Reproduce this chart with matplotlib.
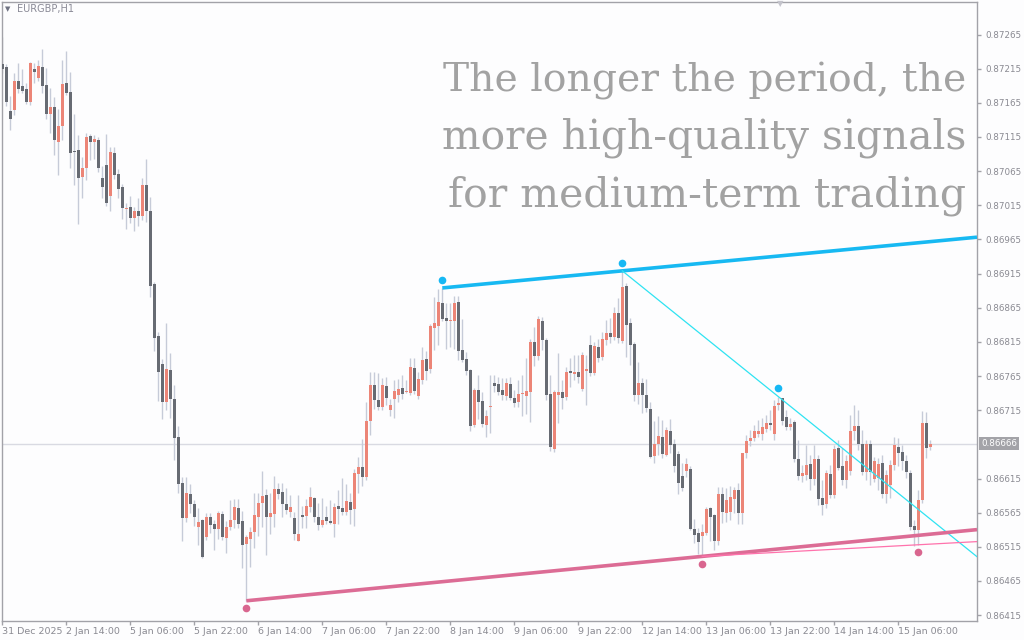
import matplotlib
matplotlib.use("Agg")
import matplotlib.pyplot as plt
import numpy as np

# EURGBP H1 candles, prices in points (1e-5)
opens = [87222, 87218, 87153, 87154, 87197, 87190, 87185, 87166, 87215, 87202,
         87217, 87191, 87148, 87159, 87107, 87131, 87194, 87181, 87094, 87096,
         87056, 87069, 87116, 87107, 87111, 87055, 87074, 87029, 87092, 87061,
         87042, 87010, 87012, 86997, 87007, 87000, 87045, 87007, 86900, 86824,
         86783, 86727, 86774, 86731, 86676, 86608, 86557, 86592, 86577, 86544,
         86554, 86530, 86559, 86548, 86541, 86563, 86528, 86544, 86554, 86572,
         86553, 86519, 86527, 86536, 86558, 86579, 86591, 86558, 86563, 86600,
         86595, 86578, 86566, 86557, 86524, 86562, 86560, 86574, 86586, 86559,
         86547, 86558, 86553, 86548, 86575, 86572, 86566, 86581, 86570, 86622,
         86632, 86617, 86699, 86752, 86730, 86719, 86750, 86715, 86731, 86737,
         86747, 86741, 86740, 86777, 86736, 86759, 86790, 86775, 86836, 86838,
         86872, 86850, 86846, 86845, 86873, 86803, 86790, 86774, 86693, 86745,
         86728, 86693, 86719, 86755, 86753, 86745, 86736, 86753, 86733, 86727,
         86738, 86736, 86741, 86815, 86794, 86846, 86818, 86739, 86658, 86737,
         86742, 86735, 86772, 86768, 86771, 86746, 86773, 86811, 86770, 86808,
         86793, 86818, 86828, 86822, 86857, 86817, 86897, 86843, 86812, 86737,
         86755, 86737, 86717, 86648, 86666, 86676, 86649, 86685, 86666, 86651,
         86619, 86626, 86629, 86541, 86535, 86531, 86535, 86572, 86562, 86524,
         86593, 86565, 86566, 86585, 86598, 86564, 86652, 86670, 86675, 86680,
         86680, 86687, 86696, 86680, 86722, 86733, 86705, 86691, 86697, 86644,
         86618, 86620, 86636, 86614, 86644, 86587, 86578, 86622, 86591, 86660,
         86633, 86613, 86626, 86685, 86692, 86665, 86625, 86666, 86615, 86616,
         86637, 86592, 86606, 86635, 86661, 86654, 86640, 86623, 86545, 86539,
         86583, 86696, 86661]
highs = [87261, 87222, 87175, 87208, 87224, 87215, 87194, 87225, 87224, 87227,
         87244, 87216, 87187, 87174, 87156, 87228, 87241, 87210, 87149, 87118,
         87086, 87121, 87120, 87118, 87115, 87072, 87119, 87100, 87100, 87068,
         87046, 87018, 87029, 87012, 87026, 87055, 87083, 87027, 86903, 86830,
         86790, 86843, 86799, 86752, 86692, 86617, 86617, 86607, 86584, 86572,
         86556, 86565, 86565, 86554, 86567, 86568, 86553, 86584, 86585, 86585,
         86567, 86533, 86544, 86594, 86594, 86626, 86600, 86594, 86619, 86608,
         86608, 86601, 86591, 86566, 86591, 86575, 86585, 86603, 86588, 86579,
         86586, 86575, 86583, 86579, 86598, 86616, 86607, 86594, 86629, 86647,
         86673, 86727, 86771, 86771, 86769, 86762, 86763, 86732, 86759, 86760,
         86767, 86759, 86791, 86791, 86771, 86807, 86802, 86841, 86880, 86892,
         86894, 86872, 86872, 86882, 86882, 86848, 86800, 86776, 86748, 86767,
         86742, 86716, 86767, 86767, 86764, 86762, 86762, 86763, 86745, 86759,
         86767, 86791, 86819, 86837, 86853, 86852, 86821, 86767, 86745, 86799,
         86759, 86778, 86791, 86796, 86796, 86800, 86796, 86825, 86815, 86819,
         86830, 86847, 86850, 86866, 86879, 86919, 86901, 86850, 86815, 86786,
         86762, 86761, 86727, 86699, 86707, 86701, 86691, 86702, 86673, 86655,
         86638, 86645, 86633, 86556, 86543, 86548, 86574, 86574, 86563, 86602,
         86603, 86601, 86604, 86603, 86609, 86653, 86679, 86686, 86693, 86701,
         86704, 86708, 86715, 86730, 86735, 86733, 86715, 86704, 86701, 86671,
         86635, 86664, 86649, 86664, 86649, 86613, 86627, 86635, 86664, 86671,
         86660, 86649, 86708, 86723, 86715, 86686, 86671, 86671, 86647, 86645,
         86649, 86627, 86642, 86676, 86674, 86664, 86649, 86627, 86554, 86598,
         86714, 86712, 86671]
lows = [87209, 87161, 87125, 87147, 87180, 87179, 87163, 87162, 87194, 87197,
        87180, 87142, 87121, 87088, 87060, 87111, 87176, 87069, 87044, 86988,
        87025, 87052, 87082, 87083, 87064, 87025, 87014, 87006, 87053, 87025,
        86995, 86980, 86989, 86977, 86985, 86993, 86990, 86880, 86801, 86729,
        86702, 86715, 86703, 86642, 86594, 86524, 86552, 86564, 86546, 86517,
        86499, 86525, 86535, 86510, 86526, 86525, 86506, 86540, 86542, 86542,
        86484, 86436, 86486, 86514, 86531, 86544, 86503, 86534, 86544, 86585,
        86559, 86563, 86559, 86525, 86524, 86543, 86543, 86566, 86552, 86539,
        86544, 86548, 86548, 86529, 86548, 86561, 86562, 86548, 86546, 86594,
        86604, 86613, 86678, 86717, 86715, 86715, 86723, 86706, 86703, 86727,
        86731, 86740, 86737, 86738, 86732, 86754, 86759, 86769, 86803, 86810,
        86845, 86804, 86808, 86805, 86789, 86786, 86767, 86685, 86691, 86702,
        86691, 86676, 86681, 86742, 86737, 86730, 86730, 86730, 86720, 86720,
        86707, 86710, 86698, 86779, 86789, 86803, 86730, 86655, 86654, 86696,
        86717, 86730, 86749, 86759, 86755, 86743, 86722, 86765, 86767, 86786,
        86789, 86810, 86813, 86818, 86813, 86813, 86793, 86781, 86728, 86724,
        86711, 86712, 86645, 86637, 86649, 86645, 86648, 86652, 86625, 86592,
        86597, 86617, 86540, 86521, 86504, 86501, 86532, 86523, 86510, 86518,
        86550, 86552, 86554, 86564, 86549, 86549, 86645, 86663, 86670, 86676,
        86671, 86683, 86686, 86671, 86715, 86693, 86686, 86686, 86639, 86613,
        86610, 86613, 86598, 86606, 86576, 86562, 86572, 86586, 86586, 86627,
        86606, 86601, 86620, 86671, 86657, 86620, 86613, 86606, 86610, 86598,
        86586, 86579, 86586, 86627, 86633, 86627, 86616, 86540, 86516, 86518,
        86579, 86645, 86657]
closes = [87215, 87166, 87141, 87197, 87185, 87182, 87166, 87224, 87210, 87219,
          87190, 87148, 87159, 87110, 87131, 87193, 87180, 87092, 87093, 87055,
          87070, 87115, 87108, 87112, 87069, 87042, 87019, 87093, 87060, 87039,
          87011, 87011, 86997, 87007, 87000, 87045, 87007, 86897, 86821, 86771,
          86727, 86775, 86732, 86675, 86607, 86557, 86594, 86578, 86559, 86551,
          86500, 86559, 86547, 86541, 86565, 86529, 86544, 86554, 86573, 86548,
          86518, 86529, 86537, 86562, 86579, 86589, 86558, 86565, 86600, 86593,
          86577, 86569, 86573, 86534, 86534, 86559, 86575, 86588, 86558, 86547,
          86554, 86553, 86550, 86573, 86570, 86566, 86582, 86569, 86623, 86632,
          86617, 86699, 86752, 86730, 86720, 86752, 86733, 86722, 86743, 86746,
          86738, 86742, 86778, 86743, 86761, 86789, 86773, 86838, 86842, 86873,
          86849, 86845, 86847, 86872, 86801, 86789, 86773, 86692, 86745, 86727,
          86695, 86707, 86720, 86751, 86742, 86737, 86755, 86733, 86726, 86739,
          86739, 86743, 86815, 86794, 86849, 86818, 86737, 86661, 86742, 86742,
          86733, 86771, 86769, 86771, 86763, 86796, 86774, 86770, 86809, 86792,
          86819, 86828, 86822, 86857, 86820, 86896, 86840, 86810, 86737, 86755,
          86737, 86718, 86647, 86666, 86677, 86651, 86686, 86664, 86633, 86608,
          86601, 86636, 86541, 86532, 86522, 86537, 86570, 86559, 86523, 86592,
          86566, 86584, 86588, 86598, 86564, 86652, 86670, 86675, 86684, 86684,
          86691, 86696, 86693, 86721, 86726, 86699, 86691, 86695, 86644, 86618,
          86623, 86635, 86614, 86644, 86585, 86576, 86623, 86591, 86658, 86631,
          86613, 86640, 86685, 86692, 86665, 86624, 86666, 86624, 86640, 86636,
          86592, 86620, 86635, 86664, 86653, 86640, 86624, 86544, 86539, 86584,
          86696, 86659, 86666]

time_labels = ["31 Dec 2025", "2 Jan 14:00", "5 Jan 06:00", "5 Jan 22:00",
               "6 Jan 14:00", "7 Jan 06:00", "7 Jan 22:00", "8 Jan 14:00",
               "9 Jan 06:00", "9 Jan 22:00", "12 Jan 14:00", "13 Jan 06:00",
               "13 Jan 22:00", "14 Jan 14:00", "15 Jan 06:00"]
label_step = 16

# fractal points that anchor the channel lines (bar index)
upper_fractals = [110, 155, 194]
lower_fractals = [61, 175, 229]
price_ticks = [86415, 86465, 86515, 86565, 86615, 86715, 86765, 86815, 86865,
               86915, 86965, 87015, 87065, 87115, 87165, 87215, 87265]
current_price = 86666
headline = ["The longer the period, the",
            "more high-quality signals",
            "for medium-term trading"]
headline_sizes = [28.3, 29.3, 29.5]

o = np.array(opens) / 1e5
h = np.array(highs) / 1e5
l = np.array(lows) / 1e5
c = np.array(closes) / 1e5
idx = np.arange(len(o))

W, H = 1024, 640
fig = plt.figure(figsize=(W / 100, H / 100), dpi=100, facecolor="#fdfdfe")
ax = fig.add_axes([2 / W, 19 / H, 975 / W, 619 / H], facecolor="#fdfdfe")

x_right = 243.7
ax.set_xlim(-0.1, x_right)
ax.set_ylim(0.864064, 0.873126)

# current price line
ax.axhline(current_price / 1e5, color="#d9dae2", lw=1, zorder=1)

# candles
bull = c >= o
ax.vlines(idx, l, h, color="#c6cbd8", lw=1, zorder=2)
body_h = np.maximum(np.abs(c - o), 0.000016)
ax.bar(idx, body_h, bottom=np.minimum(o, c), width=0.78,
       color=np.where(bull, "#ec8577", "#676b73"), linewidth=0, zorder=3)


def ray(i0, p0, i1, p1):
    slope = (p1 - p0) / (i1 - i0)
    return [i0, x_right], [p0, p0 + slope * (x_right - i0)]


ua, ub, uc = upper_fractals
la, lb, lc = lower_fractals
xs, ys = ray(ua, h[ua], ub, h[ub])
ax.plot(xs, ys, color="#17b9f2", lw=2.6, zorder=4, solid_capstyle="butt")
xs, ys = ray(ub, h[ub], uc, h[uc])
ax.plot(xs, ys, color="#2fe3f2", lw=0.9, zorder=4)
xs, ys = ray(la, l[la], lb, l[lb])
ax.plot(xs, ys, color="#dc6c95", lw=2.6, zorder=4, solid_capstyle="butt")
xs, ys = ray(lb, l[lb], lc, l[lc])
ax.plot(xs, ys, color="#ff72ac", lw=0.9, zorder=4)

uf = np.array(upper_fractals)
lf = np.array(lower_fractals)
ax.plot(uf, h[uf] + 0.00012, "o", color="#16b8f4", ms=5.5, mew=0, zorder=5)
ax.plot(lf, l[lf] - 0.00011, "o", color="#d9668f", ms=5.5, mew=0, zorder=5)

# frame and axes
for side in ["left", "top", "bottom", "right"]:
    ax.spines[side].set_color("#a2a2a8")
    ax.spines[side].set_linewidth(1)

ax.yaxis.tick_right()
ax.set_yticks(np.array(price_ticks) / 1e5)
ax.set_yticklabels([f"{p / 1e5:.5f}" for p in price_ticks])
ax.tick_params(axis="y", length=3, width=1, color="#a2a2a8", pad=3,
               labelsize=6.3, labelcolor="#8a8a92")

xt = np.arange(len(time_labels)) * label_step
ax.set_xticks(xt)
ax.set_xticklabels(time_labels, ha="left")
ax.tick_params(axis="x", length=3, width=1, color="#a2a2a8", pad=1.5,
               labelsize=6.8, labelcolor="#8a8a92")

# current price tag
ax.annotate(f"{current_price / 1e5:.5f}", xy=(1.0, current_price / 1e5),
            xycoords=("axes fraction", "data"), xytext=(3, 0),
            textcoords="offset points", va="center", ha="left", fontsize=6.3,
            color="white",
            bbox=dict(boxstyle="square,pad=0.25", fc="#a3a3a8", ec="none"))

# symbol caption
fig.text(5 / W, 1 - 9 / H, "\u25bc", fontsize=5, color="#6f7282", va="center")
fig.text(17 / W, 1 - 9 / H, "EURGBP,H1", fontsize=7, color="#8a8a96",
         va="center")
fig.text(780 / W, 1 - 4 / H, "\u25bc", fontsize=6, color="#c4c4cc",
         va="center", ha="center")

# headline
for k, line in enumerate(headline):
    fig.text(966 / W, 1 - (92 + 57 * k) / H, line, ha="right",
             va="baseline", fontsize=headline_sizes[k],
             family="DejaVu Serif", color="#a2a2a2")

fig.savefig("out.png", dpi=100, facecolor=fig.get_facecolor())
